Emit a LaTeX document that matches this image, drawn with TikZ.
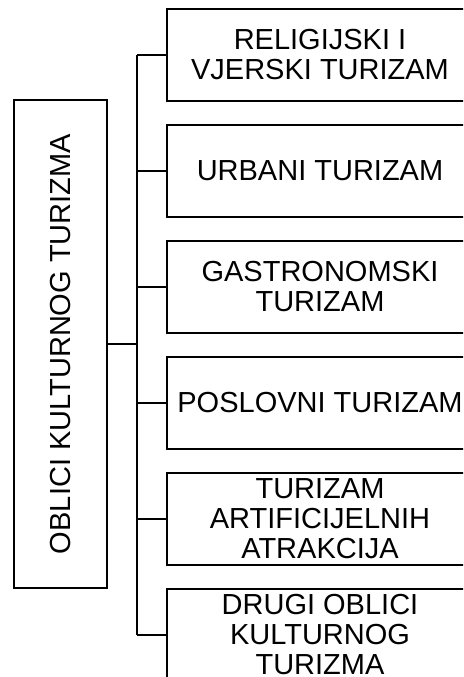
\documentclass[tikz,border=0pt]{standalone}
\usepackage{fontspec}
\setmainfont{Liberation Sans}
\usepackage{graphicx}
\begin{document}
\begin{tikzpicture}[x=1pt,y=-1pt,
		kutija/.style={draw,line width=2pt,rectangle,align=center,inner sep=0pt,font=\fontsize{29}{30}\selectfont},
		veza/.style={line width=2pt}]
		\useasboundingbox (0,0) rectangle (463,677);
		\clip (0,0) rectangle (463,677);
		\node[kutija,minimum width=93pt,minimum height=488pt] (glavni) at (60.5,344) {\rotatebox{90}{OBLICI KULTURNOG TURIZMA}};
		\foreach \i/\tekst in {1/{RELIGIJSKI I\\VJERSKI TURIZAM},2/{URBANI TURIZAM},3/{GASTRONOMSKI\\TURIZAM},4/{POSLOVNI TURIZAM},5/{TURIZAM\\ARTIFICIJELNIH\\ATRAKCIJA},6/{DRUGI OBLICI\\KULTURNOG\\TURIZMA}}
		{
			\node[kutija,minimum width=306pt,minimum height=92pt] (oblik\i) at (320,{55 + 116*(\i-1)}) {\tekst};
		}
		\coordinate (deblo) at (137,344);
		\draw[veza] (glavni.east) -- (deblo);
		\draw[veza] (oblik1.west -| deblo) -- (oblik6.west -| deblo);
		\foreach \i in {1,...,6}
		{
			\draw[veza] (oblik\i.west) -- (oblik\i.west -| deblo);
		}
		\end{tikzpicture}
\end{document}
